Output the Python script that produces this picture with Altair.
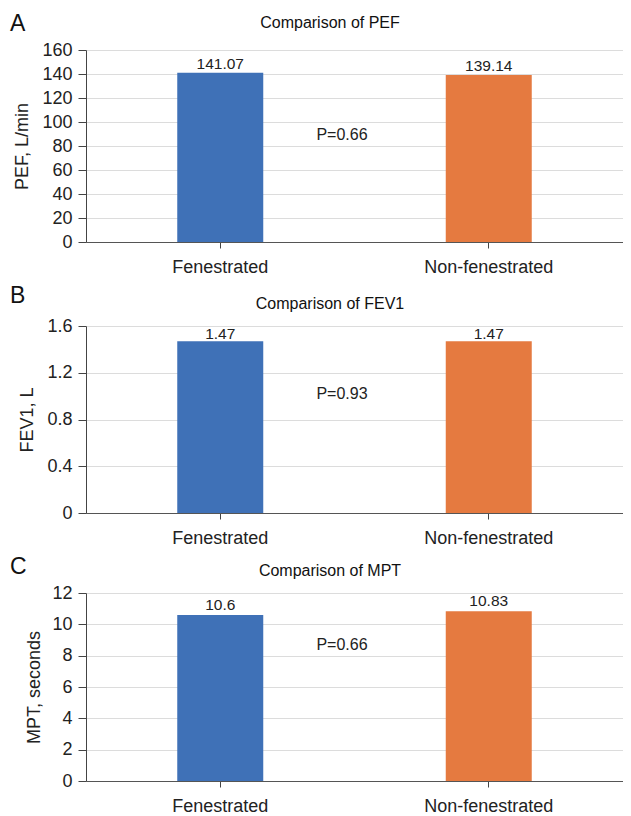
import altair as alt
import pandas as pd

FONT = "Liberation Sans"

groups = ["Fenestrated", "Non-fenestrated"]
pef = [141.07, 139.14]
fev1 = [1.47, 1.47]
mpt = [10.6, 10.83]
value_labels = [["141.07", "139.14"], ["1.47", "1.47"], ["10.6", "10.83"]]
bar_colors = ["#3f71b7", "#e57a40"]
panel_letters = ["A", "B", "C"]
titles = ["Comparison of PEF", "Comparison of FEV1", "Comparison of MPT"]
y_titles = ["PEF, L/min", "FEV1, L", "MPT, seconds"]
y_max = [160, 1.6, 12]
y_ticks = [
    [0, 20, 40, 60, 80, 100, 120, 140, 160],
    [0, 0.4, 0.8, 1.2, 1.6],
    [0, 2, 4, 6, 8, 10, 12],
]
p_labels = ["P=0.66", "P=0.93", "P=0.66"]
p_y = [89, 1.02, 8.7]

W = 537
heights = [192, 187, 188]
title_ys = [-22, -17, -17]
letter_ys = [-19, -23, -19]
title_xs = [-64, -59, -52]
label_dys = [-4, -2, -5]
formats = ["d", ".1~f", "d"]


def panel(i, values):
    h = heights[i]
    df = pd.DataFrame({"group": groups, "value": values, "label": value_labels[i]})
    x = alt.X(
        "group:N",
        sort=groups,
        scale=alt.Scale(paddingInner=0, paddingOuter=0),
        axis=alt.Axis(
            title=None, labelAngle=0, labelFontSize=18, labelFont=FONT,
            labelColor="#222222", tickSize=6, tickColor="#444444",
            domainColor="#555555", labelPadding=10, grid=False,
        ),
    )
    y = alt.Y(
        "value:Q",
        scale=alt.Scale(domain=[0, y_max[i]], nice=False, zero=True),
        axis=alt.Axis(
            values=y_ticks[i], format=formats[i], title=y_titles[i],
            titleFont=FONT, titleFontSize=18, titleFontWeight="normal",
            titleColor="#222222", titleX=title_xs[i], titleY=h / 2,
            titleAngle=-90, titleAlign="center", titleBaseline="middle",
            labelFont=FONT, labelFontSize=18, labelColor="#222222",
            labelPadding=6, tickSize=8, tickColor="#444444",
            domainColor="#444444", gridColor="#dcdcdc",
            minExtent=78, maxExtent=78,
        ),
    )
    bars = alt.Chart(df).mark_bar(size=86).encode(
        x=x, y=y,
        color=alt.Color("group:N", scale=alt.Scale(domain=groups, range=bar_colors), legend=None),
    )
    text = alt.Chart(df).mark_text(
        dy=label_dys[i], baseline="alphabetic", fontSize=15.5, font=FONT, color="#222222"
    ).encode(x=x, y=y, text="label:N")
    pdf = pd.DataFrame({"label": [p_labels[i]], "value": [p_y[i]]})
    ptext = alt.Chart(pdf).mark_text(
        baseline="middle", align="center", fontSize=16, font=FONT, color="#222222"
    ).encode(x=alt.value(256), y=y, text="label:N")
    ldf = pd.DataFrame({"t": [panel_letters[i]]})
    letter = alt.Chart(ldf).mark_text(
        align="left", baseline="alphabetic", fontSize=23, font=FONT, color="#111111"
    ).encode(x=alt.value(-76), y=alt.value(letter_ys[i]), text="t:N")
    tdf = pd.DataFrame({"t": [titles[i]]})
    title = alt.Chart(tdf).mark_text(
        align="center", baseline="alphabetic", fontSize=16, font=FONT, color="#111111"
    ).encode(x=alt.value(244), y=alt.value(title_ys[i]), text="t:N")
    return alt.layer(bars, text, ptext, letter, title).properties(width=W, height=h)


chart = alt.vconcat(
    panel(0, pef), panel(1, fev1), panel(2, mpt), spacing=9
).properties(padding={"left": 0, "top": 5, "right": 0, "bottom": 0}).configure_view(stroke=None)

chart.save("out.html", embed_options={"renderer": "svg", "actions": False})
